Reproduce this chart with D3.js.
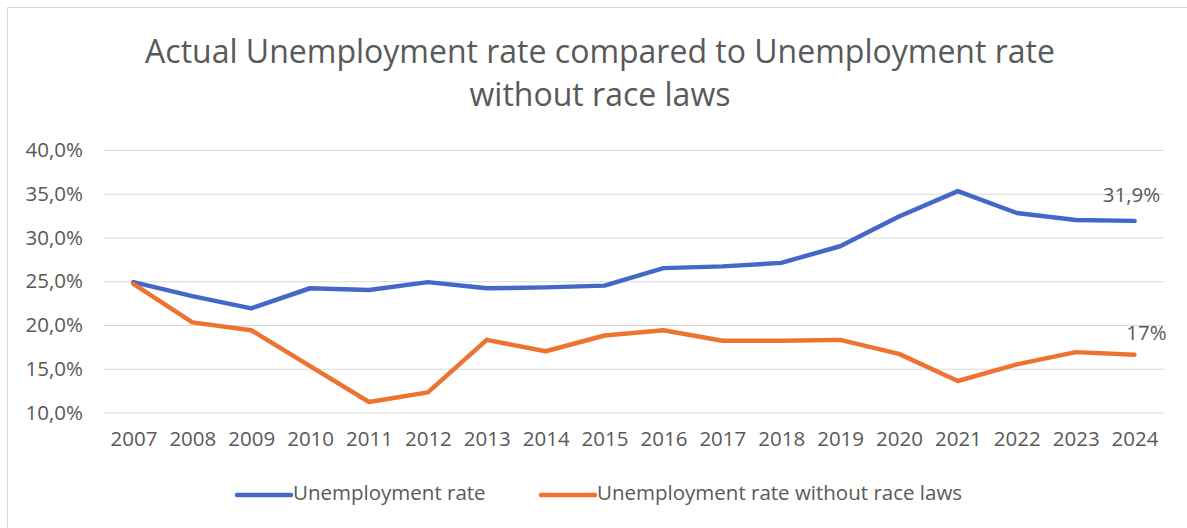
<!DOCTYPE html>
<html>
<head>
<meta charset="utf-8">
<script src="https://cdn.jsdelivr.net/npm/d3@7"></script>
<style>
  html, body { margin: 0; padding: 0; background: #fff; }
  svg { display: block; font-family: "Open Sans", "Noto Sans", sans-serif; }
</style>
</head>
<body>
<svg id="chart" width="1187" height="528"></svg>
<script>
// Years on the category axis
const years = ["2007","2008","2009","2010","2011","2012","2013","2014","2015",
               "2016","2017","2018","2019","2020","2021","2022","2023","2024"];

// Unemployment rate (%), actual
const unemploymentRate = [24.9, 23.3, 21.9, 24.2, 24.0, 24.9, 24.2, 24.3, 24.5,
                          26.5, 26.7, 27.1, 29.0, 32.4, 35.3, 32.8, 32.0, 31.9];

// Unemployment rate (%) without race laws
const rateWithoutRaceLaws = [24.7, 20.3, 19.4, 15.3, 11.2, 12.3, 18.3, 17.0, 18.8,
                             19.4, 18.2, 18.2, 18.3, 16.7, 13.6, 15.5, 16.9, 16.6];

// Value-axis ticks (%)
const yTicks = [10, 15, 20, 25, 30, 35, 40];

const seriesNames = ["Unemployment rate", "Unemployment rate without race laws"];
const titleLines = ["Actual Unemployment rate compared to Unemployment rate",
                    "without race laws"];

const series = [
  { name: seriesNames[0], values: unemploymentRate,    color: "#4468C7", fmt: ".1%", dx: -3, dy: -24 },
  { name: seriesNames[1], values: rateWithoutRaceLaws, color: "#EE7330", fmt: ".0%", dx: 12, dy: -20 }
];

// Comma as decimal separator
const locale = d3.formatLocale({ decimal: ",", thousands: ".", grouping: [3], currency: ["", "€"] });
const pct = spec => v => locale.format(spec)(v / 100);

const svg = d3.select("#chart");
const textColor = "#595959";
const labelSize = 20.5;

// Chart frame
svg.append("rect")
  .attr("x", 7.5).attr("y", 7.5)
  .attr("width", 1200).attr("height", 600)
  .attr("fill", "none").attr("stroke", "#d9d9d9").attr("stroke-width", 1);

// Title
svg.append("g").selectAll("text").data(titleLines).join("text")
  .attr("x", 600)
  .attr("y", (d, i) => 63 + i * 43)
  .attr("text-anchor", "middle")
  .attr("font-size", 32)
  .attr("fill", textColor)
  .text(d => d);

// Scales
const plot = { left: 104, right: 1164, top: 150, bottom: 412.5 };
const x = d3.scalePoint().domain(years).range([plot.left, plot.right]).padding(0.5);
const y = d3.scaleLinear().domain([10, 40]).range([plot.bottom, plot.top]);

// Horizontal gridlines and value labels
const yAxis = d3.axisLeft(y).tickValues(yTicks)
  .tickSize(-(plot.right - plot.left)).tickPadding(21).tickFormat(pct(".1%"));
const yg = svg.append("g").attr("transform", `translate(${plot.left},0)`).call(yAxis);
yg.select(".domain").remove();
yg.selectAll(".tick line").attr("stroke", "#d9d9d9").attr("stroke-width", 1.2);
yg.selectAll(".tick text").attr("font-size", labelSize).attr("fill", textColor)
  .attr("font-family", "\"Open Sans\", sans-serif");

// Category axis labels
const xAxis = d3.axisBottom(x).tickSize(0).tickPadding(19);
const xg = svg.append("g").attr("transform", `translate(0,${plot.bottom})`).call(xAxis);
xg.select(".domain").remove();
xg.selectAll(".tick text").attr("font-size", labelSize).attr("fill", textColor)
  .attr("font-family", "\"Open Sans\", sans-serif");

// Lines
const line = d3.line().x((d, i) => x(years[i])).y(d => y(d));
svg.append("g").selectAll("path").data(series).join("path")
  .attr("d", d => line(d.values))
  .attr("fill", "none")
  .attr("stroke", d => d.color)
  .attr("stroke-width", 4.5)
  .attr("stroke-linejoin", "round")
  .attr("stroke-linecap", "round");

// Labels on the last point of each series
const last = years.length - 1;
svg.append("g").selectAll("text").data(series).join("text")
  .attr("x", d => x(years[last]) + d.dx)
  .attr("y", d => y(d.values[last]) + d.dy)
  .attr("text-anchor", "middle")
  .attr("dominant-baseline", "middle")
  .attr("font-size", labelSize)
  .attr("fill", textColor)
  .text(d => pct(d.fmt)(d.values[last]));

// Legend
const legendItems = [
  { s: series[0], x: 237 },
  { s: series[1], x: 541 }
];
const lg = svg.append("g").selectAll("g").data(legendItems).join("g")
  .attr("transform", d => `translate(${d.x},495)`);
lg.append("line")
  .attr("x1", 0).attr("x2", 54).attr("y1", 0).attr("y2", 0)
  .attr("stroke", d => d.s.color).attr("stroke-width", 4.5).attr("stroke-linecap", "round");
lg.append("text")
  .attr("x", 56).attr("y", 0)
  .attr("dominant-baseline", "middle")
  .attr("font-size", labelSize)
  .attr("fill", textColor)
  .text(d => d.s.name);
</script>
</body>
</html>
